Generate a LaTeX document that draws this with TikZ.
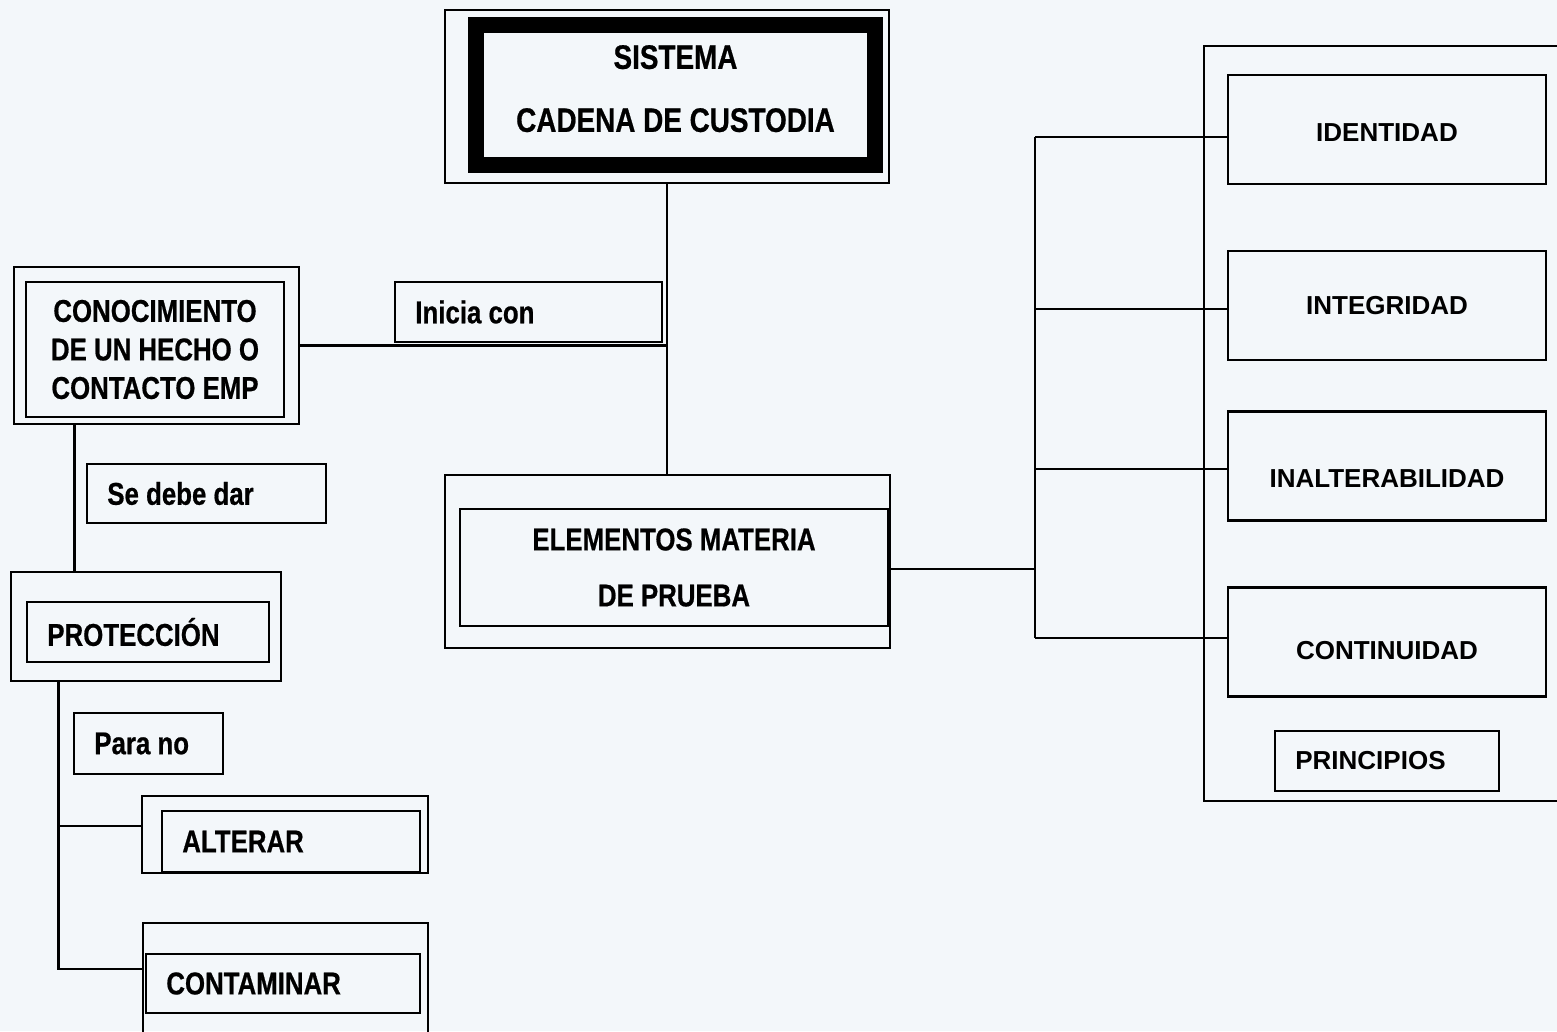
\documentclass[tikz,border=0pt]{standalone}
\usepackage{fontspec}
\setmainfont{Liberation Sans}
\newfontfamily\narrowfont{Liberation Sans}[FakeStretch=0.82,BoldFeatures={FakeBold=0.6}]
\usetikzlibrary{calc}
\definecolor{paper}{RGB}{243,247,250}

\begin{document}
\begin{tikzpicture}[x=1pt,y=-1pt,line width=2.6pt,
  ntext/.style={font=\narrowfont\bfseries\fontsize{31.5}{38.5}\selectfont},
  wtext/.style={font=\bfseries\fontsize{26}{31}\selectfont},
  boxsize/.style 2 args={draw,inner sep=0pt,minimum width=#1,minimum height=#2},
  tagtext/.style={anchor=west,xshift=17pt}]
\useasboundingbox (0,0) rectangle (1557,1031);
\clip (0,0) rectangle (1557,1031);
\fill[paper] (0,0) rectangle (1557,1031);
% top
\node[boxsize={444pt}{173pt}] (sysout) at (667,96.5) {};
\node[boxsize={399pt}{140pt},line width=16pt,align=center,text depth=13pt,
  font=\narrowfont\bfseries\fontsize{34}{41}\selectfont] (sysin) at (675.5,95)
  {SISTEMA\\[22pt]CADENA DE CUSTODIA};
% left branch
\node[boxsize={285pt}{157pt}] (conocout) at (156.5,345.5) {};
\node[boxsize={258pt}{135pt},ntext,align=center] (conocin) at (155,349.5)
  {CONOCIMIENTO\\DE UN HECHO O\\CONTACTO EMP};
\node[boxsize={267pt}{60pt},label={[ntext,tagtext]west:Inicia con}] (inicia) at (528.5,312) {};
\node[boxsize={239pt}{59pt},label={[ntext,tagtext]west:Se debe dar}] (sedebe) at (206.5,493.5) {};
\node[boxsize={270pt}{109pt}] (protout) at (146,626.5) {};
\node[boxsize={242pt}{60pt},label={[ntext,tagtext]west:PROTECCIÓN}] (protin) at (148,632) {};
\node[boxsize={149pt}{61pt},label={[ntext,tagtext]west:Para no}] (parano) at (148.5,743.5) {};
\node[boxsize={286pt}{77pt}] (altout) at (285,834.5) {};
\node[boxsize={258pt}{61pt},label={[ntext,tagtext]west:ALTERAR}] (altin) at (291,841.5) {};
\node[boxsize={285pt}{120pt}] (contout) at (285.5,983) {};
\node[boxsize={274pt}{59pt},label={[ntext,tagtext]west:CONTAMINAR}] (contin) at (283,983.5) {};
% middle
\node[boxsize={445pt}{173pt}] (elemout) at (667.5,561.5) {};
\node[boxsize={428pt}{117pt},ntext,align=center] (elemin) at (674,567.5)
  {ELEMENTOS MATERIA\\[17.5pt]DE PRUEBA};
% right branch
\node[boxsize={366pt}{755pt}] (princout) at (1387,423.5) {};
\foreach \n/\y/\t/\d in {ident/129.5/IDENTIDAD/-3.5,integ/305.5/INTEGRIDAD/0,
    inalt/466/INALTERABILIDAD/-13,cont/642/CONTINUIDAD/-9}
  \node[boxsize={318pt}{109pt},label={[wtext,yshift=\d pt]center:\t}] (\n) at (1387,\y) {};
\node[boxsize={224pt}{60pt},label={[wtext,tagtext]west:PRINCIPIOS}] (princin) at (1387,761) {};
% connectors
\draw (sysout.south) -- (sysout.south |- elemout.north);
\draw (conocout.east) -- (conocout.east -| sysout.south);
\coordinate (cv) at ([xshift=62pt]conocout.south west);
\draw (cv) -- (cv |- protout.north);
\coordinate (pv) at ([xshift=49pt]protout.south west);
\draw (pv) |- ([yshift=14pt]contout.west);
\draw ([yshift=8.5pt]altout.west) -- ([yshift=8.5pt]altout.west -| pv);
\coordinate (bus) at (1035,569);
\draw ([yshift=-7.5pt]elemout.east) -- (bus);
\foreach \n/\s in {ident/-7.5,integ/-3.5,inalt/-3,cont/4}
  \draw ([yshift=\s pt]\n.west) -- ([yshift=\s pt]\n.west -| bus);
\draw ([yshift=-7.5pt]ident.west -| bus) -- ([yshift=4pt]cont.west -| bus);
\end{tikzpicture}
\end{document}
